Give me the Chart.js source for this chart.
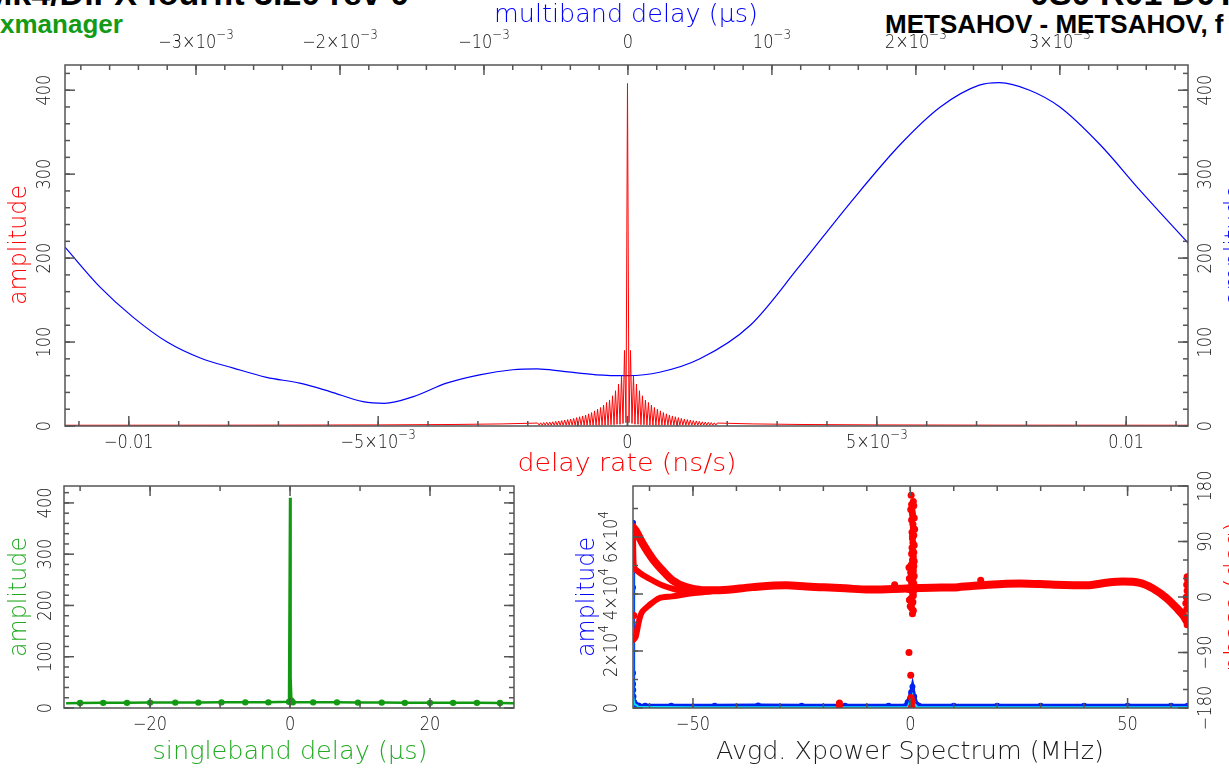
<!DOCTYPE html>
<html>
<head>
<meta charset="utf-8">
<script src="https://cdn.jsdelivr.net/npm/chart.js@4.4.1/dist/chart.umd.min.js"></script>
<style>
body { margin:0; background:#fff; width:1229px; height:769px; overflow:hidden; position:relative; font-family:'Liberation Sans', Arial, sans-serif; }
canvas { position:absolute; left:0; top:0; }
.hd { position:absolute; white-space:nowrap; font-weight:bold; line-height:1; color:#000; }
</style>
</head>
<body>
<div class="hd" style="left:-16px;top:-24px;font-size:34px">Mk4/DiFX fourfit 3.20 rev 0</div>
<div class="hd" style="left:0;top:11px;font-size:26px;color:#149a14">xmanager</div>
<div class="hd" style="left:1030px;top:-24px;font-size:34px">0S0 R01 D0T:R</div>
<div class="hd" style="left:885px;top:11px;font-size:26px">METSAHOV - METSAHOV, f</div>
<canvas id="top" width="1229" height="769"></canvas>
<canvas id="sbd" width="1229" height="769"></canvas>
<canvas id="xps" width="1229" height="769"></canvas>
<script>
// ---- delay rate fringe (red), offsets from the peak, right side; left side is the mirror
var rateOff = [0, 0.00003, 0.00006, 0.00009, 0.00012, 0.00015, 0.00018, 0.00021, 0.00024, 0.00027, 0.0003,
  0.00033, 0.00036, 0.00039, 0.00042, 0.00045, 0.00048, 0.00051, 0.00054, 0.00057, 0.0006,
  0.00063, 0.00066, 0.00069, 0.00072, 0.00075, 0.00078, 0.00081, 0.00084, 0.00087, 0.0009,
  0.00093, 0.00096, 0.00099, 0.00102, 0.00105, 0.00108, 0.00111, 0.00114, 0.00117, 0.0012,
  0.00123, 0.00126, 0.00129, 0.00132, 0.00135, 0.00138, 0.00141, 0.00144, 0.00147, 0.0015,
  0.00153, 0.00156, 0.00159, 0.00162, 0.00165, 0.00168, 0.00171, 0.00174, 0.00177, 0.0018,
  0.0025, 0.0035, 0.005, 0.0075, 0.0113];
var rateAmp = [408, 4, 90, 3, 60, 2, 50, 2, 42, 1.5, 36,
  1.5, 31, 1.2, 28, 1.2, 25, 1, 22, 1, 20,
  1, 18, 1, 16, 1, 14.5, 1, 13, 1, 12,
  1, 11, 1, 10, 1, 9, 1, 8.3, 1, 7.6,
  1, 7, 1, 6.4, 1, 6, 1, 5.5, 1, 5,
  1, 4.7, 1, 4.4, 1, 4.1, 1, 3.8, 1, 3.5,
  2.5, 1.8, 1.3, 1, 0.9];

// ---- multiband delay amplitude (blue, top axis in us)
var mbdX = [-0.00391, -0.00367, -0.00344, -0.0032, -0.00297, -0.00274, -0.00251, -0.00228, -0.00207, -0.00184, -0.00169,
  -0.00149, -0.00126, -0.00103, -0.0008, -0.00063, -0.00045, -0.00022, 0, 0.00022, 0.0005, 0.00085,
  0.00119, 0.00154, 0.00189, 0.00217, 0.00244, 0.00258, 0.00279, 0.003, 0.00328, 0.00356, 0.00389];
var mbdAmp = [213, 166, 130, 100, 81, 69, 58, 51, 41, 29, 27,
  35, 51, 61, 67, 68, 65, 61, 60, 64, 80, 120,
  190, 265, 335, 380, 406, 409, 400, 380, 335, 280, 218];

// ---- singleband delay (green)
var sbdX = [-32, -30, -26.7, -23.3, -20, -16.4, -13.1, -9.8, -6.4, -3.1, -0.15, 0, 0.08, 0.2, 0.4,
  3.3, 6.7, 9.7, 13.1, 16.4, 20, 23.3, 26.7, 30, 32];
var sbdAmp = [9.5, 9.8, 10, 10, 10.5, 10.5, 10.5, 11, 11, 11, 12, 410, 60, 14, 11,
  11, 11, 10.5, 10.5, 10, 10, 10, 10, 9.8, 9.5];

// ---- averaged cross power spectrum: amplitude
var ampF = [-63.8, -63.8, -63.8, -63.78, -63.75, -63.7, -63.5, -63.2, -62.5, -61, -55, -45, -35, -25, -15, -5,
  -1, -0.6, 0.2, 0.5, 0.9, 1.5, 2, 10, 20, 30, 40, 50, 60, 63.8];
var ampV = [65000, 42300, 12300, 8400, 6300, 4000, 2000, 1200, 900, 800, 800, 800, 850, 800, 800, 800,
  800, 2000, 5500, 7500, 4000, 1200, 800, 800, 800, 800, 800, 800, 800, 800];
var cyanF = [-63.8, -63.8, -63.7, -63.5, -62.5, -50, -30, -10, -0.6, 0.1, 0.5, 1, 1.6, 10, 30, 50, 63.8];
var cyanV = [300, 62000, 4000, 1500, 400, 300, 300, 300, 300, 3000, 4500, 1500, 300, 300, 300, 300, 300];

// ---- averaged cross power spectrum: phase (deg)
var phMainF = [-63.8, -63.2, -61.6, -59.3, -57, -54.7, -51.6, -47.8, -43.9, -36.3, -28.5, -23.9, -20.9, -15, -9.4, -4,
  0, 5, 11, 18, 25.2, 33, 40.6, 45, 48.9, 52.8, 55.8, 59, 61.3, 62.7, 63.7];
var phMainP = [113, 108, 87, 62, 43, 27, 16, 11, 11, 16, 19, 17, 16, 14, 12, 13,
  14, 15, 16, 20, 22, 20, 19, 23, 25, 23, 14, -2, -18, -29, -40];
var phInnerF = [-63.8, -63.6, -62.4, -60.1, -57.1, -53.2, -48];
var phInnerP = [100, 49, 40, 30, 19, 11, 10];
var phLowF = [-63.8, -63.2, -62.4, -61.7, -60.1, -57.8, -54.8, -50.2, -46];
var phLowP = [-70, -65, -38, -24, -13.5, -2, 1, 6, 9];
var phDotF = [0.2, 0.3, 0.4, 0.5, 0.3, 0.6, 0.4, 0.5, 0.6, 0.4, 0.3, 0.5, 0.2, -0.3, 0.6, 0.1, 0.4, -0.2, 0.5, 0.3,
  -0.4, 0.6, 0.2, 0.4, 0.3, 0.5, 0.7, 0.1, 1.0, -0.3, 0.1, 0.2, 0.5, 0.3, -16.3, -16.3, -3.6, 16.2, -63.6,
  63.7, 63.8, 63.6, 63.7, 63.5, 63.4, 63.6, 63.8, 63.7,
  0.7, 0.8, 0.6, 0.9, 0.7, 0.8, 0.5, 0.9, 0.6, 0.8, 0.7, 0.9, 0.6, 0.8, 0.4, 0.7, 0.2, 0.9, -0.1, 0.6,
  0.3, 0.8, 0.5, 0.7, -0.2, 0.6, 0.9, 0.4, 0.8, 0.0];
var phDotP = [165, 150, 140, 135, 125, 118, 105, 95, 88, 80, 70, 60, 52, 48, 45, 40, 35, 30, 25, 18,
  12, 5, -2, -10, -18, -27, -22, 142, 110, -90, -127, -163, -170, -178, -172, -177, 20, 27, -30,
  33, 28, 20, 10, 0, -10, -20, -35, -45,
  155, 148, 130, 128, 112, 100, 98, 84, 75, 72, 65, 58, 55, 50, 44, 42, 38, 34, 30, 28,
  24, 22, 8, 2, -5, -8, 15, 20, 10, -15];

// ---- axis ticks and labels
var rateTicks = [-0.01, -0.005, 0, 0.005, 0.01];
var rateLabels = [['−0.01', ''], ['−5×10', '−3'], ['0', ''], ['5×10', '−3'], ['0.01', '']];
var mbdTicks = [-0.003, -0.002, -0.001, 0, 0.001, 0.002, 0.003];
var mbdLabels = [['−3×10', '−3'], ['−2×10', '−3'], ['−10', '−3'], ['0', ''], ['10', '−3'], ['2×10', '−3'], ['3×10', '−3']];
var ampTicks = [0, 100, 200, 300, 400];
var ampLabels = [['0', ''], ['100', ''], ['200', ''], ['300', ''], ['400', '']];
var sbdTicks = [-20, 0, 20];
var sbdLabels = [['−20', ''], ['0', ''], ['20', '']];
var freqTicks = [-50, 0, 50];
var freqLabels = [['−50', ''], ['0', ''], ['50', '']];
var xpTicks = [0, 20000, 40000, 60000];
var xpLabels = [['0', ''], ['2×10', '4'], ['4×10', '4'], ['6×10', '4']];
var phTicks = [-180, -90, 0, 90, 180];
var phLabels = [['−180', ''], ['−90', ''], ['0', ''], ['90', ''], ['180', '']];

var TF = "'DejaVu Sans', 'Liberation Sans', sans-serif";

function pts(xs, ys, sign) {
  return xs.map(function (x, i) { return { x: (sign || 1) * x, y: ys[i] }; });
}

// thin text, optional superscript, optional fit-to-width or horizontal squeeze
function txt(ctx, s, sup, x, y, o) {
  ctx.save();
  ctx.translate(x, y);
  if (o.rot) ctx.rotate(-Math.PI / 2);
  ctx.fillStyle = o.color || '#111';
  ctx.textBaseline = 'middle';
  ctx.textAlign = 'left';
  var f = '200 ' + o.size + 'px ' + TF, fs = '200 ' + Math.round(o.size * 0.75) + 'px ' + TF;
  ctx.font = f;
  var w1 = ctx.measureText(s).width;
  ctx.font = fs;
  var w2 = sup ? ctx.measureText(sup).width : 0;
  if (o.w) ctx.scale(o.w / (w1 + w2), 1);
  else if (o.sx) ctx.scale(o.sx, 1);
  var x0 = -(w1 + w2) / 2;
  ctx.font = f;
  ctx.fillText(s, x0, 0);
  if (sup) { ctx.font = fs; ctx.fillText(sup, x0 + w1, -o.size * 0.42); }
  ctx.restore();
}

// pgplot style frame: inward ticks, rotated y labels, axis titles
var pgFrame = {
  id: 'pgFrame',
  afterDatasetsDraw: function (chart, args, opts) {
    var ctx = chart.ctx, a = chart.chartArea;
    ctx.save();
    ctx.strokeStyle = '#555';
    ctx.lineWidth = 1.5;
    ctx.strokeRect(a.left, a.top, a.right - a.left, a.bottom - a.top);
    opts.axes.forEach(function (ax) {
      var sc = chart.scales[ax.id];
      var horiz = ax.id.charAt(0) === 'x';
      var all = [];
      var start = Math.ceil(sc.min / ax.minor - 1e-6) * ax.minor;
      for (var v = start; v <= sc.max + 1e-9; v += ax.minor) all.push([v, 5]);
      ax.major.forEach(function (v) { all.push([v, 10]); });
      ax.sides.forEach(function (side) {
        all.forEach(function (t) {
          var p = sc.getPixelForValue(t[0]);
          ctx.beginPath();
          if (side === 'bottom') { ctx.moveTo(p, a.bottom); ctx.lineTo(p, a.bottom - t[1]); }
          if (side === 'top') { ctx.moveTo(p, a.top); ctx.lineTo(p, a.top + t[1]); }
          if (side === 'left') { ctx.moveTo(a.left, p); ctx.lineTo(a.left + t[1], p); }
          if (side === 'right') { ctx.moveTo(a.right, p); ctx.lineTo(a.right - t[1], p); }
          ctx.stroke();
        });
      });
      if (ax.labels) {
        ax.major.forEach(function (v, i) {
          var p = sc.getPixelForValue(v);
          var l = ax.labels[i];
          if (horiz) txt(ctx, l[0], l[1], p, ax.at, { size: 19, sx: 0.85 });
          else txt(ctx, l[0], l[1], ax.at, p, { size: 19, sx: 0.85, rot: true });
        });
      }
    });
    opts.titles.forEach(function (t) {
      txt(ctx, t.text, '', t.x, t.y, { size: 24, rot: t.rot, color: t.color, w: t.w });
    });
    ctx.restore();
  }
};

function mkChart(id, pad, scales, datasets, frame) {
  return new Chart(document.getElementById(id), {
    type: 'scatter',
    data: { datasets: datasets },
    options: {
      responsive: false,
      animation: false,
      events: [],
      layout: { padding: pad },
      scales: scales,
      plugins: { legend: { display: false }, tooltip: { enabled: false }, pgFrame: frame }
    },
    plugins: [pgFrame]
  });
}

function lin(min, max) { return { type: 'linear', display: false, min: min, max: max }; }

// ---------- top panel: delay rate / multiband delay
var rateRight = pts(rateOff, rateAmp);
var rateLeft = pts(rateOff.slice(1), rateAmp.slice(1), -1).reverse();
mkChart('top', { left: 65, right: 41, top: 65, bottom: 343 },
  { x: lin(-0.01128, 0.01124), x2: lin(-0.00391, 0.00389), y: lin(0, 430), y2: lin(0, 430) },
  [
    { data: rateLeft.concat(rateRight), xAxisID: 'x', yAxisID: 'y', showLine: true, borderColor: '#ff0000',
      borderWidth: 1, pointRadius: 0 },
    { data: pts(mbdX, mbdAmp), xAxisID: 'x2', yAxisID: 'y2', showLine: true, borderColor: '#0000ff',
      borderWidth: 1.2, pointRadius: 0, cubicInterpolationMode: 'monotone' }
  ],
  {
    axes: [
      { id: 'x', sides: ['bottom'], major: rateTicks, minor: 0.001, labels: rateLabels, at: 443 },
      { id: 'x2', sides: ['top'], major: mbdTicks, minor: 0.0002, labels: mbdLabels, at: 43 },
      { id: 'y', sides: ['left'], major: ampTicks, minor: 20, labels: ampLabels, at: 45 },
      { id: 'y2', sides: ['right'], major: ampTicks, minor: 20, labels: ampLabels, at: 1206 }
    ],
    titles: [
      { text: 'amplitude', x: 20, y: 245, rot: true, color: '#ff0000', w: 120 },
      { text: 'delay rate (ns/s)', x: 627, y: 465, color: '#ff0000', w: 219 },
      { text: 'multiband delay (μs)', x: 626, y: 16, color: '#0000ff', w: 264 },
      { text: 'amplitude', x: 1236, y: 245, rot: true, color: '#0000ff', w: 120 }
    ]
  });

// ---------- bottom left: singleband delay
mkChart('sbd', { left: 64, right: 715, top: 486, bottom: 61 },
  { x: lin(-32.3, 32), y: lin(0, 433) },
  [
    { data: pts(sbdX, sbdAmp), showLine: true, borderColor: '#119911', backgroundColor: '#119911',
      borderWidth: 2.5, pointBorderWidth: 0,
      pointRadius: function (c) { return c.raw && c.raw.y > 20 || Math.abs(c.raw.x) > 31 ? 0 : 3.2; } }
  ],
  {
    axes: [
      { id: 'x', sides: ['bottom', 'top'], major: sbdTicks, minor: 10, labels: sbdLabels, at: 725 },
      { id: 'y', sides: ['left', 'right'], major: ampTicks, minor: 20, labels: ampLabels, at: 46 }
    ],
    titles: [
      { text: 'amplitude', x: 20, y: 597, rot: true, color: '#22aa22', w: 120 },
      { text: 'singleband delay (μs)', x: 290, y: 753, color: '#22aa22', w: 275 }
    ]
  });

// ---------- bottom right: averaged cross power spectrum
var red = '#ff0000';
mkChart('xps', { left: 633, right: 41, top: 486, bottom: 61 },
  { x: lin(-63.8, 63.9), y: lin(0, 77900), y2: lin(-180, 180) },
  [
    { data: pts(phMainF, phMainP), yAxisID: 'y2', showLine: true, borderColor: red, borderWidth: 8,
      borderJoinStyle: 'round', borderCapStyle: 'round', pointRadius: 0, cubicInterpolationMode: 'monotone' },
    { data: pts(phInnerF, phInnerP), yAxisID: 'y2', showLine: true, borderColor: red, borderWidth: 6,
      borderJoinStyle: 'round', borderCapStyle: 'round', pointRadius: 0, tension: 0.3 },
    { data: pts(phLowF, phLowP), yAxisID: 'y2', showLine: true, borderColor: red, borderWidth: 6,
      borderJoinStyle: 'round', borderCapStyle: 'round', pointRadius: 0, tension: 0.3 },
    { data: pts(phDotF, phDotP), yAxisID: 'y2', backgroundColor: red, pointBorderWidth: 0, pointRadius: 3.5 },
    { data: pts(cyanF, cyanV), yAxisID: 'y', showLine: true, borderColor: '#00e5ff', borderWidth: 2, pointRadius: 0 },
    { data: pts(ampF, ampV), yAxisID: 'y', showLine: true, borderColor: '#0022ee', backgroundColor: '#0022ee',
      borderWidth: 4, pointRadius: 3, pointBorderWidth: 0 }
  ],
  {
    axes: [
      { id: 'x', sides: ['bottom', 'top'], major: freqTicks, minor: 10, labels: freqLabels, at: 725 },
      { id: 'y', sides: ['left'], major: xpTicks, minor: 10000, labels: xpLabels, at: 612 },
      { id: 'y2', sides: ['right'], major: phTicks, minor: 30, labels: phLabels, at: 1206 }
    ],
    titles: [
      { text: 'amplitude', x: 588, y: 597, rot: true, color: '#0000ff', w: 120 },
      { text: 'Avgd. Xpower Spectrum (MHz)', x: 910, y: 753, color: '#1a1a1a', w: 388 },
      { text: 'phase (deg)', x: 1236, y: 597, rot: true, color: '#ff0000', w: 150 }
    ]
  });
</script>
</body>
</html>
